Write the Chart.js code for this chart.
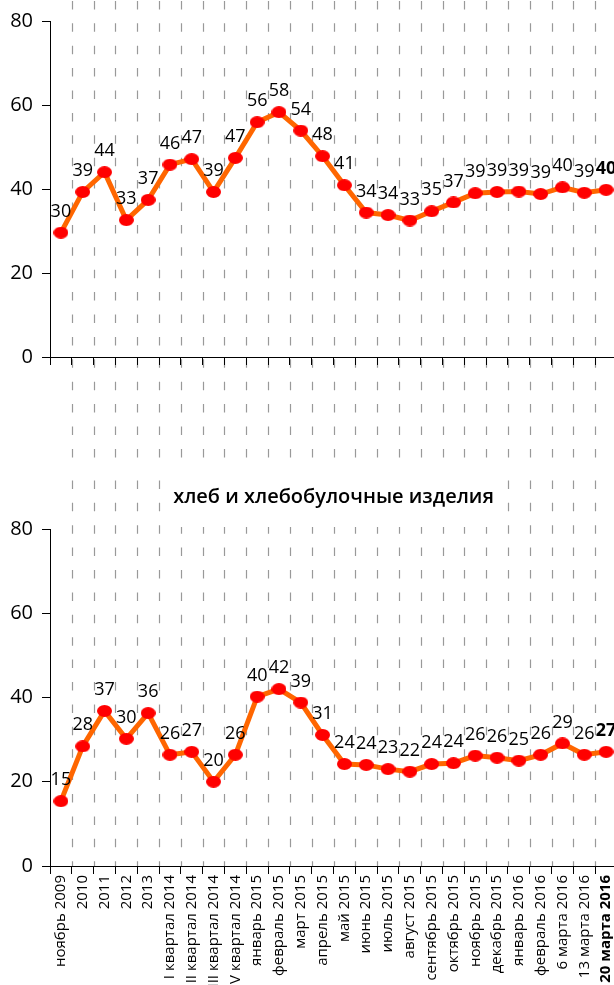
<!DOCTYPE html>
<html>
<head>
<meta charset="utf-8">
<script src="https://cdn.jsdelivr.net/npm/chart.js@4/dist/chart.umd.min.js"></script>
<style>
  html, body { margin: 0; padding: 0; background: #fff; overflow: hidden; width: 614px; height: 985px; }
  canvas { position: absolute; left: 0; }
  #c1 { top: 0; }
  #c2 { top: 470px; }
</style>
</head>
<body>
<canvas id="c1" width="640" height="470"></canvas>
<canvas id="c2" width="640" height="515"></canvas>
<script>
// ---- data ----
const categories = [
  "ноябрь 2009", "2010", "2011", "2012", "2013",
  "I квартал 2014", "II квартал 2014", "III квартал 2014", "IV квартал 2014",
  "январь 2015", "февраль 2015", "март 2015", "апрель 2015", "май 2015",
  "июнь 2015", "июль 2015", "август 2015", "сентябрь 2015", "октябрь 2015",
  "ноябрь 2015", "декабрь 2015", "январь 2016", "февраль 2016",
  "6 марта 2016", "13 марта 2016", "20 марта 2016"
];
const topValues = [29.6, 39.3, 44.0, 32.6, 37.4, 45.8, 47.1, 39.3, 47.4, 55.9, 58.3, 53.9,
  47.8, 40.9, 34.4, 33.8, 32.5, 34.7, 36.8, 39.0, 39.3, 39.4, 38.8, 40.4, 39.1, 39.8];
const breadTitle = "хлеб и хлебобулочные изделия";
const breadValues = [15.4, 28.4, 36.8, 30.2, 36.3, 26.4, 27.1, 20.0, 26.4, 40.2, 42.0, 38.8,
  31.1, 24.2, 24.0, 23.0, 22.4, 24.2, 24.4, 26.2, 25.7, 25.0, 26.4, 29.1, 26.4, 27.1];
const yTicks = [0, 20, 40, 60, 80];

// ---- styling ----
const FONT = "'Open Sans', 'Noto Sans', sans-serif";
const LINE_COLOR = '#FF6600';
const POINT_COLOR = '#FF0000';

function ellipseImage(w, h, color) {
  const c = document.createElement('canvas');
  c.width = w; c.height = h;
  const g = c.getContext('2d');
  g.fillStyle = color;
  g.beginPath();
  g.ellipse(w / 2, h / 2, w / 2, h / 2, 0, 0, Math.PI * 2);
  g.fill();
  return c;
}
const pointImg = ellipseImage(15, 12, POINT_COLOR);

function dashedGrid(opts) {
  return {
    id: 'dashedGrid',
    beforeDraw(chart) {
      const ctx = chart.ctx;
      const xs = chart.scales.x;
      const n = chart.data.labels.length;
      const step = xs.getPixelForValue(1) - xs.getPixelForValue(0);
      const yEnd = opts.toBottom ? chart.height : chart.chartArea.bottom;
      ctx.save();
      ctx.strokeStyle = '#999999';
      ctx.lineWidth = 1.2;
      ctx.setLineDash([8.5, 13.9]);
      ctx.lineDashOffset = opts.phase;
      for (let i = 1; i <= n; i++) {
        const x = Math.round(xs.getPixelForValue(i) - step / 2) + 0.5;
        ctx.beginPath();
        ctx.moveTo(x, 0);
        ctx.lineTo(x, yEnd);
        ctx.stroke();
      }
      ctx.restore();
      const t = chart.options.plugins.title;
      if (t && t.display) {
        ctx.save();
        ctx.font = '600 ' + t.font.size + 'px ' + FONT;
        const w = ctx.measureText(t.text).width;
        const tb = chart.titleBlock;
        const cx = (tb.left + tb.right) / 2;
        ctx.fillStyle = '#fff';
        ctx.fillRect(cx - w / 2 - 4, tb.top + 2, w + 8, tb.height - 4);
        ctx.restore();
      }
    }
  };
}

const valueLabels = {
  id: 'valueLabels',
  afterDatasetsDraw(chart) {
    const ctx = chart.ctx;
    const meta = chart.getDatasetMeta(0);
    const data = chart.data.datasets[0].data;
    ctx.save();
    ctx.fillStyle = '#000';
    ctx.textAlign = 'center';
    ctx.textBaseline = 'middle';
    meta.data.forEach((pt, i) => {
      const last = i === data.length - 1;
      ctx.font = (last ? 'bold ' : '') + '18px ' + FONT;
      ctx.fillText(String(Math.round(data[i])), pt.x, pt.y - 21);
    });
    ctx.restore();
  }
};

function makeChart(canvasId, values, cfg) {
  return new Chart(document.getElementById(canvasId), {
    type: 'line',
    data: {
      labels: categories,
      datasets: [{
        data: values,
        borderColor: LINE_COLOR,
        borderWidth: 5,
        tension: 0,
        pointStyle: pointImg,
        pointRadius: 6,
        pointBackgroundColor: POINT_COLOR,
        pointBorderColor: POINT_COLOR,
        fill: false
      }]
    },
    options: {
      responsive: false,
      animation: false,
      devicePixelRatio: 1,
      events: [],
      layout: { padding: { top: cfg.padTop, right: 23, left: 0, bottom: 0 } },
      plugins: {
        legend: { display: false },
        tooltip: { enabled: false },
        title: cfg.title ? {
          display: true,
          text: cfg.title,
          fullSize: false,
          color: '#000',
          font: { family: FONT, size: 20, weight: '600', lineHeight: 1.2 },
          padding: { top: 15, bottom: 20 }
        } : { display: false }
      },
      scales: {
        x: {
          type: 'category',
          offset: true,
          border: { color: '#000', width: 1 },
          grid: { offset: true, drawOnChartArea: false, drawTicks: true, tickLength: 8, color: '#000' },
          ticks: {
            display: cfg.showX,
            autoSkip: false,
            minRotation: 90,
            maxRotation: 90,
            padding: 1,
            color: '#000',
            font: (c) => ({ family: FONT, size: 15, weight: c.index === categories.length - 1 ? 'bold' : 'normal' })
          },
          afterFit: (s) => { s.height = cfg.xHeight; }
        },
        y: {
          min: 0,
          max: 80,
          border: { color: '#000', width: 1 },
          grid: { drawOnChartArea: false, drawTicks: true, tickLength: 8, color: '#000' },
          afterBuildTicks: (s) => { s.ticks = yTicks.map(v => ({ value: v })); },
          ticks: { color: '#000', padding: 9, font: { family: FONT, size: 20 } },
          afterFit: (s) => { s.width = 50; }
        }
      }
    },
    plugins: [dashedGrid(cfg.grid), valueLabels]
  });
}

makeChart('c1', topValues, {
  padTop: 17, showX: false, xHeight: 113, title: null,
  grid: { toBottom: true, phase: 21.5 }
});
makeChart('c2', breadValues, {
  padTop: 0, showX: true, xHeight: 119, title: breadTitle,
  grid: { toBottom: false, phase: 12 }
});
</script>
</body>
</html>
